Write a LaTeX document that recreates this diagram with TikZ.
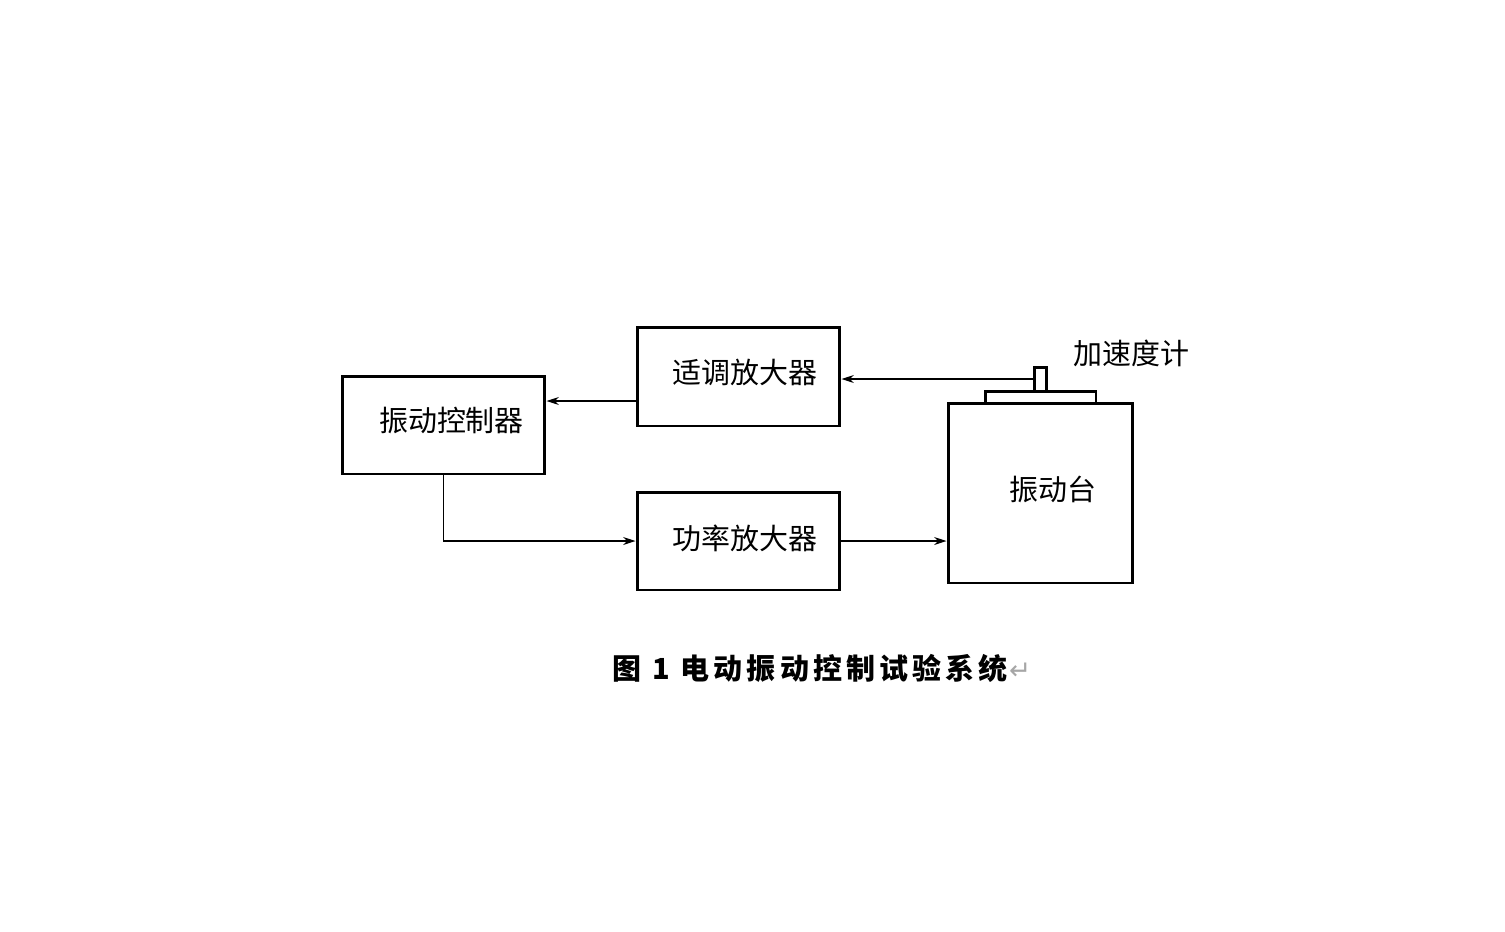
\documentclass[tikz,border=0pt]{standalone}
\usepackage{fontspec}
\newfontfamily\cjk{Noto Sans CJK SC}
\newfontfamily\symfont{DejaVu Sans}
\usetikzlibrary{arrows.meta}

\tikzset{
  box/.style={draw, line width=1.7pt, inner sep=0pt},
  link/.style={line width=0.8pt, -{Stealth[length=7pt,width=4.5pt]}},
  txt/.style={font=\cjk\fontsize{16.5pt}{18pt}\selectfont, inner sep=0pt}
}

\begin{document}
\begin{tikzpicture}[x=0.02cm, y=-0.02cm]
            \useasboundingbox[fill=white] (0,0) rectangle (1505,931);

            \node (b1) at (443.5, 425) [box, minimum width=4.06cm, minimum height=1.96cm] {};
            \node (b2) at (738.5, 376.5) [box, minimum width=4.06cm, minimum height=1.98cm] {};
            \node (b3) at (738.5, 541) [box, minimum width=4.06cm, minimum height=1.96cm] {};
            \node (b4) at (1040.5, 493) [box, minimum width=3.7cm, minimum height=3.6cm] {};
            \node (p1) at (1040.5, 397) [box, minimum width=2.22cm, minimum height=0.24cm] {};
            \node (s1) at (1040, 379) [box, minimum width=0.24cm, minimum height=0.48cm] {};

            \coordinate (m1) at ([yshift=-0.49cm]b2.west);

            \draw[link] (s1.west) -- (s1.west -| b2.east);
            \draw[link] (m1) -- (m1 -| b1.east);
            \draw[link] (b1.south) |- (b3.west);
            \draw[link] (b3.east) -- (b3.east -| b4.west);

            \node (l1) at (451.5, 420) [txt] {振动控制器};
            \node (l2) at (745, 372) [txt] {适调放大器};
            \node (l3) at (745, 538) [txt] {功率放大器};
            \node (l4) at (1053, 489) [txt] {振动台};
            \node (l5) at (1131, 353) [txt] {加速度计};

            \node (c1) at (822, 668) [inner sep=0pt, font=\cjk\bfseries\fontsize{16.5pt}{18pt}\selectfont]
                {\addfontfeatures{LetterSpace=14}图 1 电动振动控制试验系统\kern1pt{\symfont\mdseries\color{gray!70}\fontsize{15pt}{17pt}\selectfont ↵}};

        \end{tikzpicture}
\end{document}
